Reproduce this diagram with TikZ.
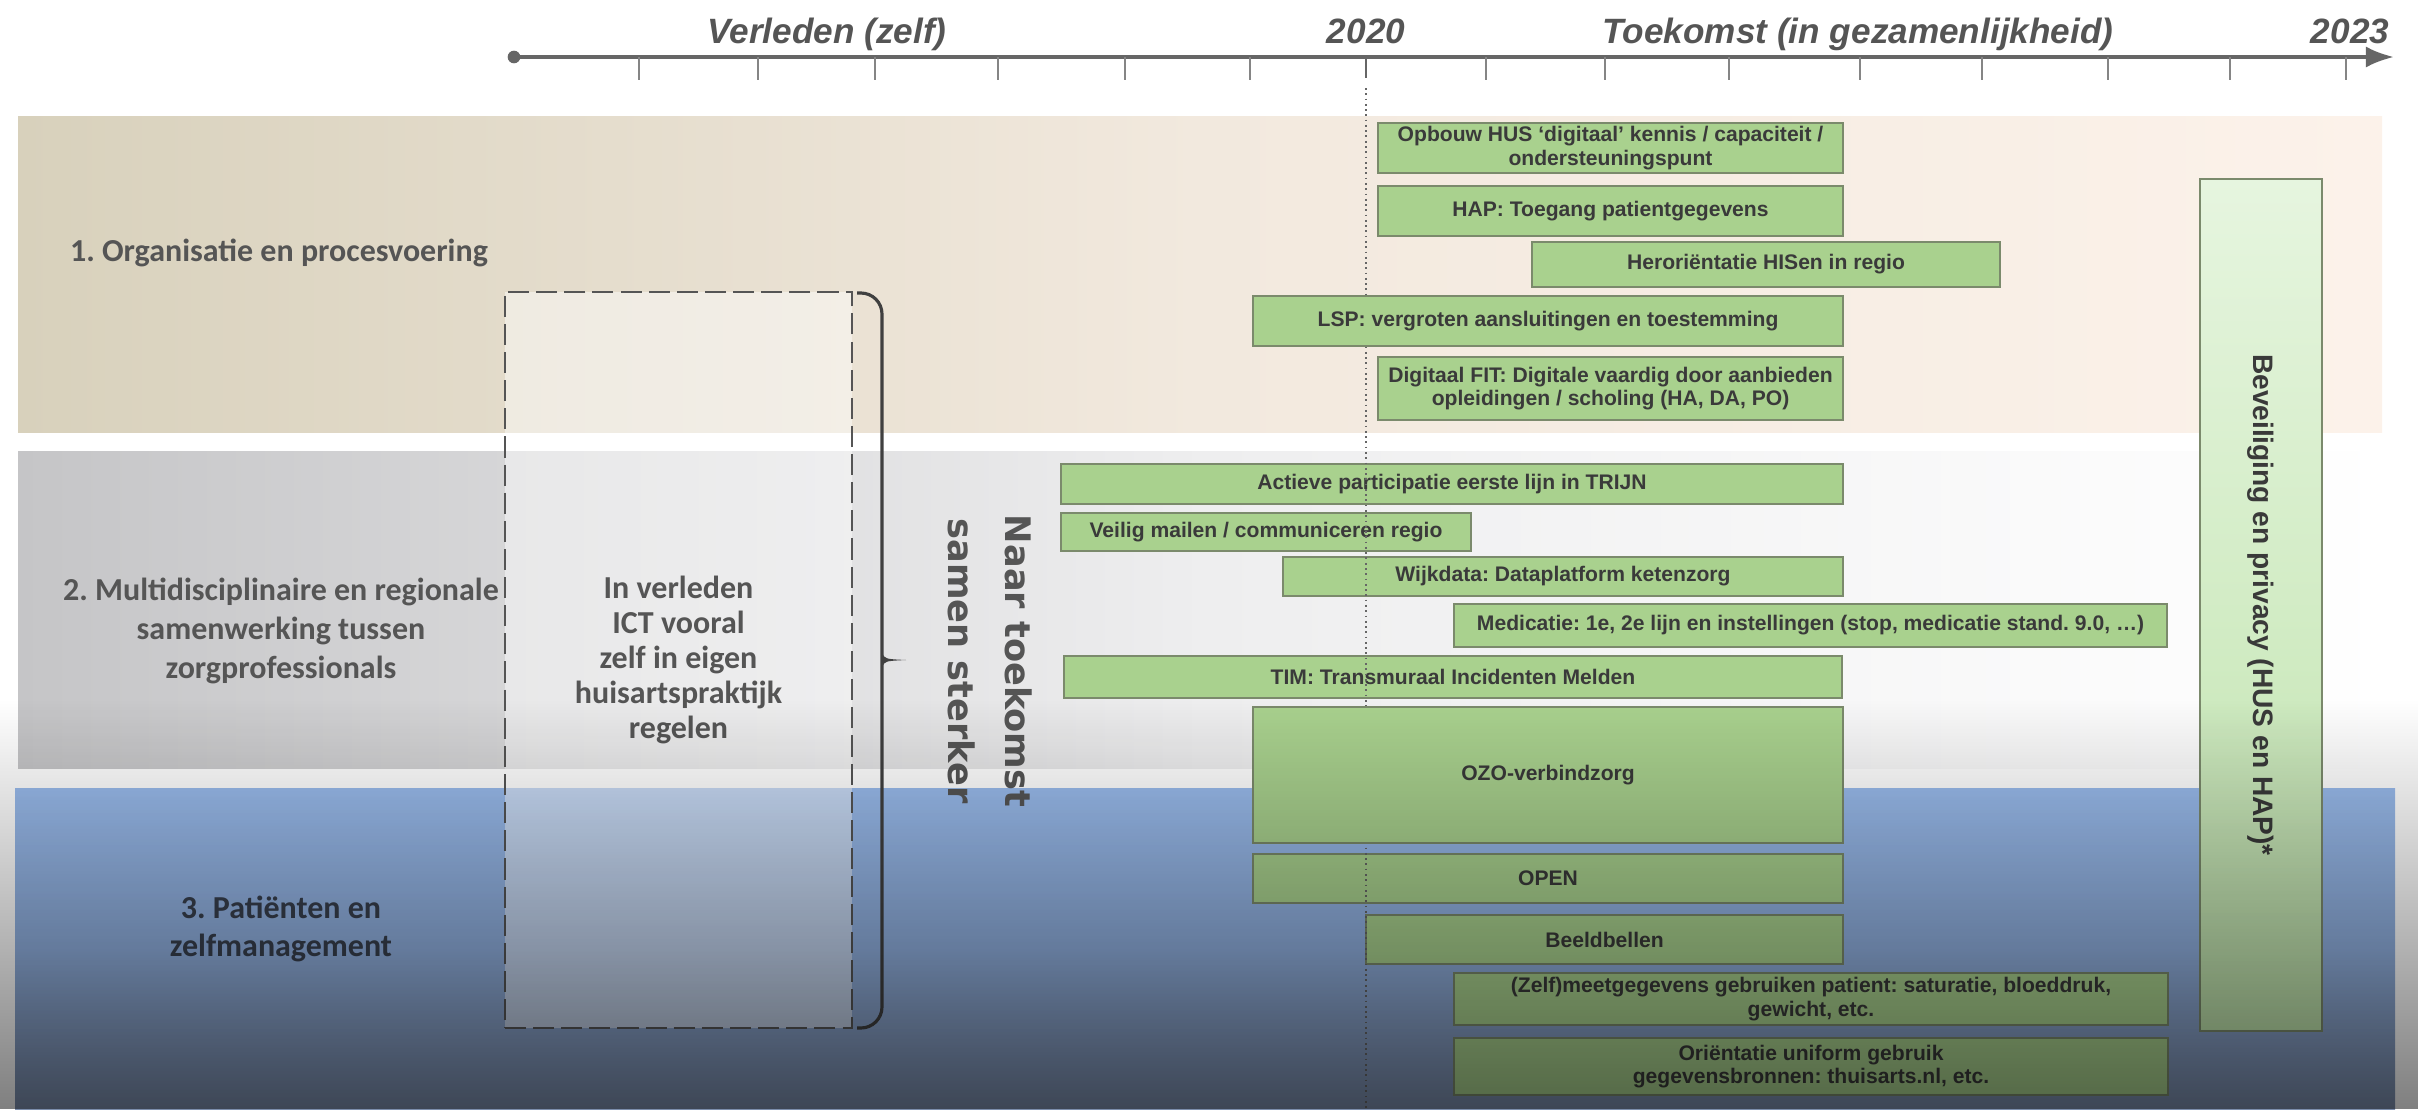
\documentclass[tikz,border=0pt]{standalone}
\usepackage{fontspec}
\setmainfont{Liberation Sans}
\newfontfamily\carlito{Carlito}
\newfontfamily\dejavu{DejaVu Sans}
\usetikzlibrary{arrows.meta,fadings}
\frenchspacing

\definecolor{taskgreen}{HTML}{A9D18E}
\definecolor{taskline}{HTML}{7B8A6C}
\definecolor{tasktext}{HTML}{3A3A3A}
\definecolor{labelgray}{HTML}{555555}
\definecolor{axisgray}{HTML}{666666}
\definecolor{bandtanL}{HTML}{D8D1BC}
\definecolor{bandtanM}{HTML}{F2E9DE}
\definecolor{bandtanR}{HTML}{FCF2EA}
\definecolor{bandgrayL}{HTML}{C5C5C7}
\definecolor{bandgrayM}{HTML}{EEEEEF}
\definecolor{bandblueT}{HTML}{99BBEC}
\definecolor{bandblueM}{HTML}{91B1E1}
\definecolor{bandblueB}{HTML}{7C8EAC}
\definecolor{slate}{HTML}{38404E}
\definecolor{privtop}{HTML}{E6F5DF}
\definecolor{privbot}{HTML}{BFE3AC}

\tikzfading[name=lowshade, top color=transparent!100, middle color=transparent!70, bottom color=transparent!0]

\begin{document}
\begin{tikzpicture}[x=0.01cm, y=-0.01cm,
    task/.style={draw=taskline, line width=0.6pt, fill=taskgreen, text=tasktext,
        font=\fontsize{6}{6.6}\selectfont\bfseries, align=center, inner sep=0pt},
    theme/.style={text=labelgray, font=\carlito\bfseries\fontsize{9.1}{11}\selectfont, align=center},
    period/.style={text=labelgray, font=\fontsize{10}{12}\selectfont\bfseries\itshape, anchor=base},
    tick/.style={axisgray!80, line width=0.5pt}]
    \useasboundingbox (0,0) rectangle (2422,1109);

    % bands
    \shade[left color=bandtanL, right color=bandtanR, middle color=bandtanM] (18,116) rectangle (2382,432);
    \shade[left color=bandgrayL, right color=white, middle color=bandgrayM] (18,451) rectangle (2394,768);
    \shade[top color=bandblueT, bottom color=bandblueB, middle color=bandblueM] (15,788) rectangle (2395,1109);

    % time axis
    \fill[axisgray] (514,57) circle (1.8pt);
    \draw[axisgray, line width=1.1pt, -{Latex[length=8pt,width=6pt]}] (514,57) -- (2394,57);
    \foreach \x in {639,758,875,998,1125,1250,1486,1605,1729,1860,1982,2108,2230,2346}
        \draw[tick] (\x,57) -- (\x,80);
    \draw[axisgray, line width=0.8pt] (1366,57) -- (1366,78);
    \node[period] at (827,43) (verleden) {Verleden (zelf)};
    \node[period] at (1366,43) (y2020) {2020};
    \node[period] at (1858,43) (toekomst) {Toekomst (in gezamenlijkheid)};
    \node[period] at (2350,43) (y2023) {2023};

    % themes
    \node[theme] at (279,253) (org) {1. Organisatie en procesvoering};
    \node[theme] at (281,631) (multi) {2. Multidisciplinaire en regionale\\samenwerking tussen\\zorgprofessionals};
    \node[theme, text=slate] at (281,929) (pat) {3. Patiënten en\\zelfmanagement};

    \node[theme, draw=labelgray, dash pattern=on 6pt off 2pt, line width=0.6pt, fill=white, fill opacity=0.45,
        text opacity=1, minimum width=3.47cm, minimum height=7.36cm, font=\carlito\bfseries\fontsize{9.1}{10}\selectfont]
        at (678.5,660) (eigen) {In verleden\\ICT vooral\\zelf in eigen\\huisartspraktijk\\regelen};
    \draw[black!75, line width=0.9pt, rounded corners=6] (857,293) -- (882,293) -- (882,1028) -- (857,1028);
    \fill[black!75] (882,653) .. controls (885,659) .. (906,660) .. controls (885,661) .. (882,667) -- cycle;
    \node[rotate=-90, text=labelgray, font=\dejavu\bfseries\fontsize{10}{16}\selectfont, align=center]
        at (990,661) (samen) {Naar toekomst\\samen sterker};

    % projects
    \node[task, minimum width=4.65cm, minimum height=5mm] at (1610.5,148) (opbouw) {Opbouw HUS `digitaal' kennis / capaciteit /\\ondersteuningspunt};
    \node[task, minimum width=4.65cm, minimum height=5mm] at (1610.5,211) (hap) {HAP: Toegang patientgegevens};
    \node[task, minimum width=4.68cm, minimum height=4.5mm] at (1766,264.5) (his) {Heroriëntatie HISen in regio};
    \node[task, minimum width=4.65cm, minimum height=6.3mm] at (1610.5,388.5) (fit) {Digitaal FIT: Digitale vaardig door aanbieden\\opleidingen / scholing (HA, DA, PO)};
    \node[task, minimum width=7.82cm, minimum height=4mm] at (1452,484) (trijn) {Actieve participatie eerste lijn in TRIJN};
    \node[task, minimum width=4.1cm, minimum height=3.8mm] at (1266,532) (mail) {Veilig mailen / communiceren regio};
    \node[task, minimum width=5.6cm, minimum height=3.9mm] at (1563,576.5) (wijk) {Wijkdata: Dataplatform ketenzorg};
    \node[task, minimum width=7.13cm, minimum height=4.3mm] at (1810.5,625.5) (medicatie) {Medicatie: 1e, 2e lijn en instellingen (stop, medicatie stand. 9.0, \dots)};
    \node[task, minimum width=7.78cm, minimum height=4.2mm] at (1453,677) (tim) {TIM: Transmuraal Incidenten Melden};
    \node[task, minimum width=5.9cm, minimum height=4.9mm] at (1548,878.5) (open) {OPEN};
    \node[task, minimum width=4.77cm, minimum height=4.9mm] at (1604.5,939.5) (beeld) {Beeldbellen};
    \node[task, minimum width=7.14cm, minimum height=5.2mm] at (1811,999) (zelf) {(Zelf)meetgegevens gebruiken patient: saturatie, bloeddruk,\\gewicht, etc.};
    \node[task, minimum width=7.14cm, minimum height=5.7mm] at (1811,1066.5) (uniform) {Oriëntatie uniform gebruik\\gegevensbronnen: thuisarts.nl, etc.};
    \node[task, rotate=-90, minimum width=8.52cm, minimum height=1.22cm, top color=privtop, bottom color=privbot,
        font=\fontsize{8}{9}\selectfont\bfseries] at (2261,605) (privacy) {Beveiliging en privacy (HUS en HAP)*};

    \draw[axisgray, densely dotted, line width=0.5pt] (1366,88) -- (1366,1109);
    \node[task, minimum width=5.9cm, minimum height=5mm] at (1548,321) (lsp) {LSP: vergroten aansluitingen en toestemming};
    \node[task, minimum width=5.9cm, minimum height=1.36cm] at (1548,775) (ozo) {OZO-verbindzorg};

    % shadow over the lower part
    \fill[black, fill opacity=0.5, path fading=lowshade] (0,700) rectangle (2422,1109);
\end{tikzpicture}
\end{document}
